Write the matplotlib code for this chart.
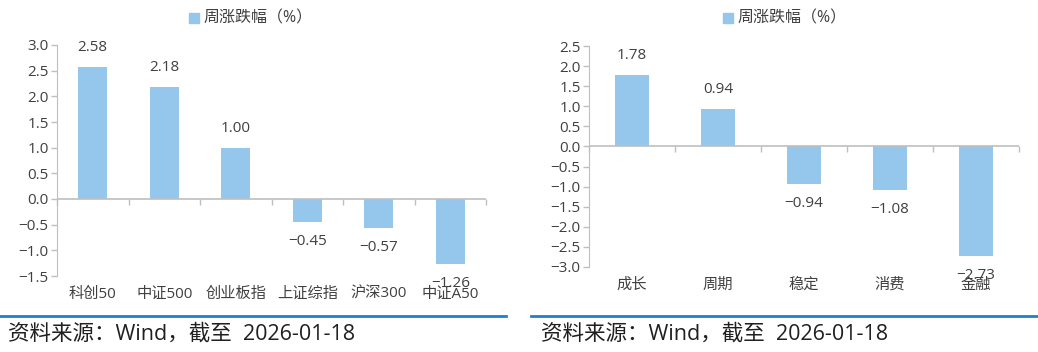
import matplotlib
matplotlib.use("Agg")
import matplotlib.pyplot as plt
from matplotlib.patches import Rectangle
import numpy as np

FAM = ['Open Sans', 'Noto Sans CJK SC', 'DejaVu Sans']
plt.rcParams['font.family'] = FAM

left_categories = ["科创50", "中证500", "创业板指", "上证综指", "沪深300", "中证A50"]
left_values = [2.58, 2.18, 1.00, -0.45, -0.57, -1.26]
left_yticks = [3.0, 2.5, 2.0, 1.5, 1.0, 0.5, 0.0, -0.5, -1.0, -1.5]

right_categories = ["成长", "周期", "稳定", "消费", "金融"]
right_values = [1.78, 0.94, -0.94, -1.08, -2.73]
right_yticks = [2.5, 2.0, 1.5, 1.0, 0.5, 0.0, -0.5, -1.0, -1.5, -2.0, -2.5, -3.0]

legend_label = "周涨跌幅（%）"
source_text = "资料来源：Wind，截至  2026-01-18"

BAR = "#95C6EC"
TXT = "#404040"
AX = "#BFBFBF"
BLUE = "#1F80D2"

W, H = 1038, 352
fig = plt.figure(figsize=(W / 100, H / 100), dpi=100)


def fmt(v, nd):
    return f"{v:.{nd}f}".replace("-", "\u2212")


def panel(rect, cats, vals, yticks, legend_x, line_x0, line_x1, src_x):
    ax = fig.add_axes([rect[0] / W, 1 - rect[3] / H, (rect[2] - rect[0]) / W, (rect[3] - rect[1]) / H])
    x = np.arange(len(cats))
    ax.bar(x, vals, width=0.4, color=BAR, zorder=2)
    ax.set_xlim(-0.5, len(cats) - 0.5)
    ax.set_ylim(min(yticks), max(yticks))
    ax.set_yticks(yticks)
    ax.set_yticklabels([fmt(t, 1) for t in yticks])
    ax.set_xticks(x)
    ax.set_xticklabels(cats)
    ax.tick_params(axis='x', length=0, pad=8, labelsize=11, labelcolor=TXT)
    ax.tick_params(axis='y', length=4, color=AX, width=1, labelsize=11, labelcolor=TXT, pad=2)
    for s in ['top', 'right', 'bottom']:
        ax.spines[s].set_visible(False)
    ax.spines['left'].set_color(AX)
    ax.axhline(0, color=AX, lw=1.2, zorder=3)
    sec = ax.secondary_xaxis(0, transform=ax.transData)
    sec.set_xticks(np.arange(len(cats) + 1) - 0.5)
    sec.set_xticklabels([])
    sec.spines['bottom'].set_visible(False)
    sec.tick_params(axis='x', length=4, color=AX, width=1, direction='out')
    for xi, v in zip(x, vals):
        off = 14 if v >= 0 else -14
        ax.annotate(fmt(v, 2), (xi, v), xytext=(0, off), textcoords='offset points',
                    ha='center', va='center', fontsize=11, color=TXT)
    fig.patches.append(Rectangle(((legend_x - 58) / W, 1 - 23 / H), 10 / W, 10 / H,
                                 transform=fig.transFigure, color=BAR))
    fig.text((legend_x - 43) / W, 1 - 18 / H, legend_label, ha='left', va='center', fontsize=11.5, color=TXT)
    fig.add_artist(plt.Line2D([line_x0 / W, line_x1 / W], [1 - 316 / H, 1 - 316 / H],
                              transform=fig.transFigure, color=BLUE, lw=2))
    fig.text(src_x / W, 1 - 334 / H, source_text, ha='left', va='center', fontsize=15.5, color="#202020")
    return ax


panel((57, 45, 486, 276), left_categories, left_values, left_yticks, 247, 0, 506, 8)
panel((589, 46, 1019, 267), right_categories, right_values, right_yticks, 781, 531, 1038, 541)

fig.savefig("out.png", dpi=100)
